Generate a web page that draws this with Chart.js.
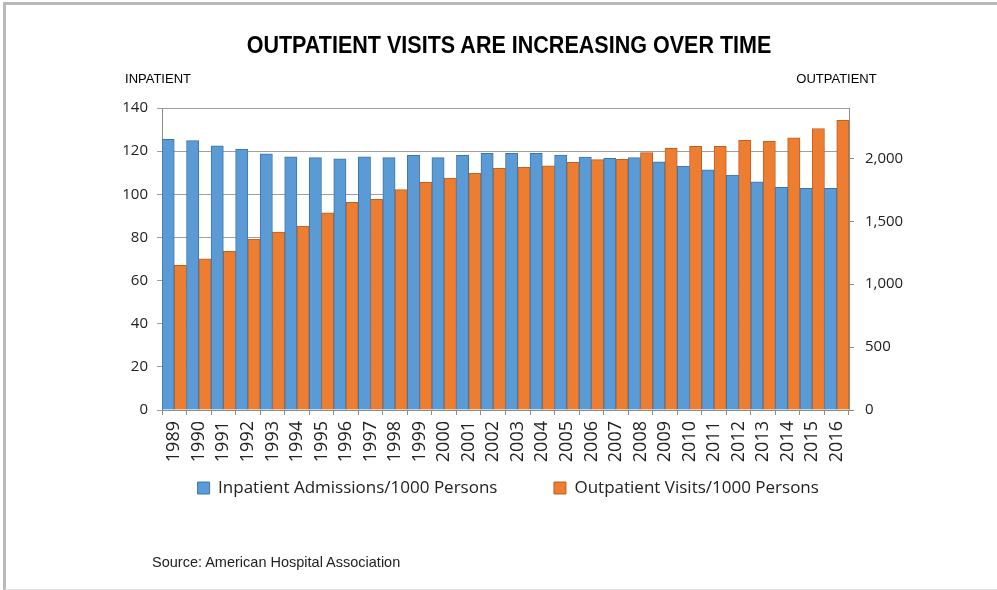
<!DOCTYPE html>
<html><head><meta charset="utf-8">
<script src="https://cdn.jsdelivr.net/npm/chart.js@4.4.0/dist/chart.umd.min.js"></script>
<style>
html,body{margin:0;padding:0;background:#fff;}
#wrap{position:relative;width:997px;height:590px;overflow:hidden;background:#fff;}
#frame{position:absolute;left:3px;top:2px;width:1010px;height:584px;border-top:3px solid #b9b9b9;border-left:3px solid #b9b9b9;border-bottom:2px solid #e4e4e4;}
canvas{position:absolute;left:0;top:0;}
.t{position:absolute;white-space:nowrap;color:#000;}
#title{left:508.5px;top:33.8px;transform:translateX(-50%) scaleX(0.936);font:bold 23px/23px "Liberation Sans",Arial,sans-serif;}
#lin{left:158px;top:71.7px;transform:translateX(-50%);font:13px/13px "Liberation Sans",Arial,sans-serif;}
#lout{left:836.5px;top:71.7px;transform:translateX(-50%);font:13px/13px "Liberation Sans",Arial,sans-serif;}
#src{left:152px;top:554.7px;font:14.5px/14.5px "Liberation Sans",Arial,sans-serif;color:#222;}
</style>
</head><body>
<div id="wrap">
<div id="frame"></div>
<canvas id="c" width="997" height="590"></canvas>
<div class="t" id="title">OUTPATIENT VISITS ARE INCREASING OVER TIME</div>
<div class="t" id="lin">INPATIENT</div>
<div class="t" id="lout">OUTPATIENT</div>
<div class="t" id="src">Source: American Hospital Association</div>
</div>
<script>
const years = ["1989","1990","1991","1992","1993","1994","1995","1996","1997","1998","1999","2000","2001","2002","2003","2004","2005","2006","2007","2008","2009","2010","2011","2012","2013","2014","2015","2016"];
const inpatient = [125.5,124.9,122.5,120.9,118.7,117.4,117.0,116.4,117.4,117.0,118.1,117.0,118.1,119.0,119.0,119.0,118.2,117.3,116.7,117.0,115.1,113.1,111.3,108.9,105.8,103.2,102.8,102.8];
const outpatient = [1149,1202,1260,1359,1414,1462,1566,1650,1674,1751,1809,1844,1881,1921,1929,1940,1969,1990,1993,2046,2080,2096,2096,2144,2136,2163,2237,2303];
const seriesNames = ["Inpatient Admissions/1000 Persons","Outpatient Visits/1000 Persons"];
const leftTicks = [0, 20, 40, 60, 80, 100, 120, 140];
const rightTicks = [0, 500, 1000, 1500, 2000];
const rightMax = 2400;

const legendShift = {
  id: 'legendShift',
  afterLayout(chart) {
    const lg = chart.legend;
    if (!lg) return;
    const h = lg.bottom - lg.top;
    lg.top = 423;
    lg.bottom = 423 + h;
  }
};

Chart.defaults.devicePixelRatio = 1;
new Chart(document.getElementById('c'), {
  type: 'bar',
  data: {
    labels: years,
    datasets: [
      {label: seriesNames[0], data: inpatient, yAxisID: 'y', backgroundColor: '#5b9bd5', borderColor: '#3f74aa', borderWidth: 1, categoryPercentage: 1, barPercentage: 1},
      {label: seriesNames[1], data: outpatient, yAxisID: 'y1', backgroundColor: '#ed7d31', borderColor: '#c1601f', borderWidth: 1, categoryPercentage: 1, barPercentage: 1}
    ]
  },
  plugins: [legendShift],
  options: {
    responsive: false,
    animation: false,
    layout: {padding: {top: 108, left: 19.5, right: 0, bottom: 31.5}},
    plugins: {
      title: {display: false},
      tooltip: {enabled: false},
      legend: {
        position: 'bottom',
        labels: {boxWidth: 12, boxHeight: 12, padding: 56.5, color: '#222', font: {family: '"Open Sans", sans-serif', size: 17}}
      }
    },
    scales: {
      x: {
        grid: {offset: true, drawOnChartArea: false, drawTicks: true, tickLength: 5, color: '#8c8c8c'},
        border: {color: '#8c8c8c'},
        ticks: {minRotation: 90, maxRotation: 90, autoSkip: false, padding: 6, color: '#222', font: {family: '"Open Sans", sans-serif', size: 18}},
        afterFit: s => { s.height = 65; }
      },
      y: {
        position: 'left', min: leftTicks[0], max: leftTicks[leftTicks.length - 1],
        ticks: {padding: 9, color: '#222', font: {family: '"Open Sans", sans-serif', size: 15}},
        afterBuildTicks: s => { s.ticks = leftTicks.map(v => ({value: v})); },
        grid: {color: '#a0a0a0', tickLength: 5},
        border: {color: '#8c8c8c'},
        afterFit: s => { s.width = 142.5; }
      },
      y1: {
        position: 'right', min: rightTicks[0], max: rightMax, bounds: 'data',
        ticks: {padding: 11, color: '#222', font: {family: '"Open Sans", sans-serif', size: 15}},
        afterBuildTicks: s => { s.ticks = rightTicks.map(v => ({value: v})); },
        grid: {drawOnChartArea: false, tickLength: 5, color: '#8c8c8c'},
        border: {color: '#8c8c8c'},
        afterFit: s => { s.width = 148; }
      }
    }
  }
});
</script>
</body></html>
